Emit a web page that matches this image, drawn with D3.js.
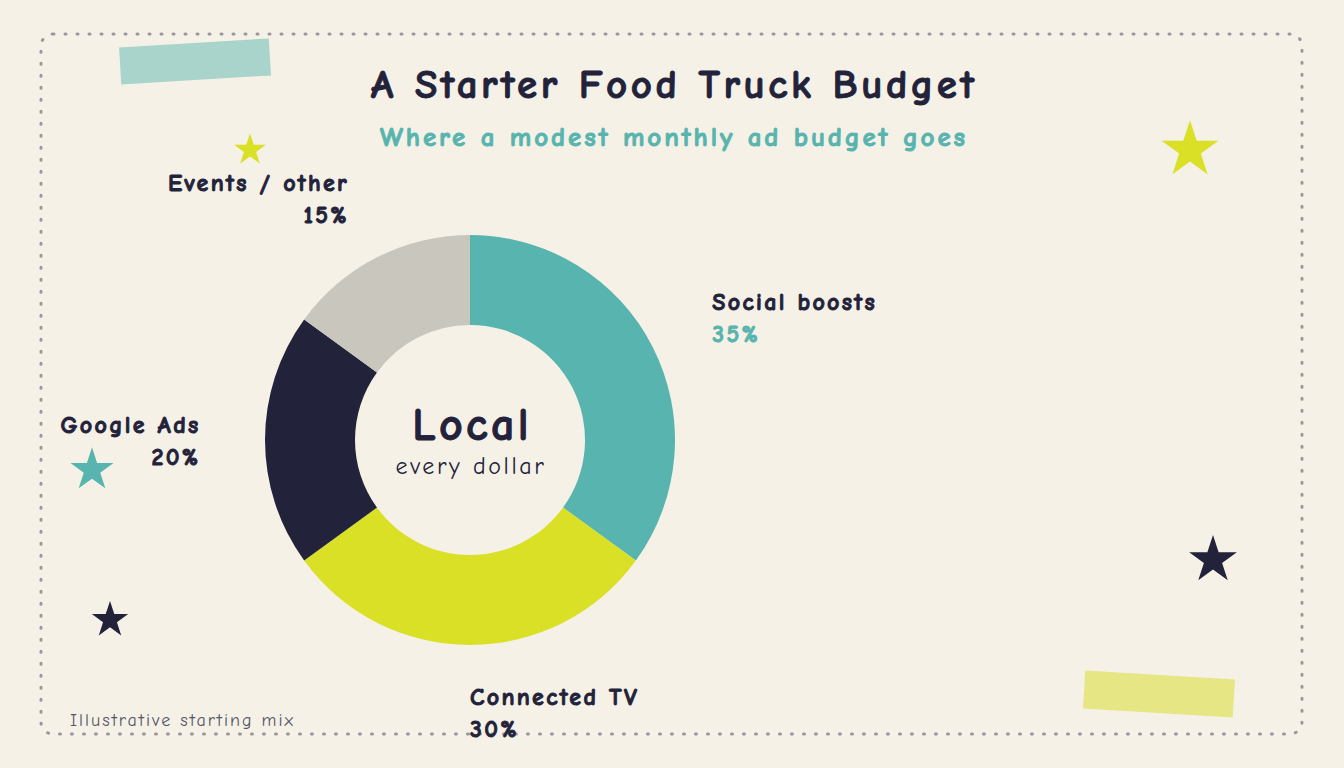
<!DOCTYPE html>
<html>
<head>
<meta charset="utf-8">
<script src="https://cdn.jsdelivr.net/npm/d3@7"></script>
<style>
  html, body { margin: 0; padding: 0; background: #f5f1e6; }
  svg { display: block; font-family: "Comic Neue", "Comic Sans MS", "Chalkboard SE", cursive, "Noto Sans", sans-serif; }
  .heavy { stroke-width: 0.9px; stroke-linejoin: round; }
</style>
</head>
<body>
<div id="chart"></div>
<script>
const categories = ["Social boosts", "Connected TV", "Google Ads", "Events / other"];
const shares = [35, 30, 20, 15];
const sliceColors = ["#58b4ae", "#d9e026", "#22223a", "#c9c6bd"];

const width = 1344, height = 768;
const cx = 470, cy = 440;
const outerR = 205, innerR = 115, labelR = 272;

const data = categories.map((c, i) => ({ name: c, value: shares[i], color: sliceColors[i] }));

const svg = d3.select("#chart").append("svg")
  .attr("width", width)
  .attr("height", height);

svg.append("rect")
  .attr("width", width).attr("height", height)
  .attr("fill", "#f5f1e6");

// dotted frame
svg.append("rect")
  .attr("x", 41).attr("y", 34)
  .attr("width", 1261).attr("height", 700)
  .attr("rx", 12)
  .attr("fill", "none")
  .attr("stroke", "#9a979c")
  .attr("stroke-width", 3)
  .attr("stroke-linecap", "round")
  .attr("stroke-dasharray", "1 11");

// tape strips
svg.append("rect")
  .attr("x", -75).attr("y", -18).attr("width", 150).attr("height", 37)
  .attr("fill", "#a9d4cc")
  .attr("transform", "translate(195,61) rotate(-3.5)");
svg.append("rect")
  .attr("x", -75).attr("y", -19).attr("width", 150).attr("height", 38)
  .attr("fill", "#e6e784")
  .attr("transform", "translate(1159,694) rotate(3.5)");

// stars
const stars = [
  { x: 250, y: 150, r: 14, c: "#d9e026" },
  { x: 1190, y: 150, r: 25, c: "#d9e026" },
  { x: 92, y: 470, r: 19, c: "#58b4ae" },
  { x: 110, y: 620, r: 16, c: "#22223a" },
  { x: 1213, y: 560, r: 21, c: "#22223a" }
];
const starPath = d3.symbol().type(d3.symbolStar);
svg.selectAll(".star").data(stars).enter()
  .append("path")
  .attr("class", "star")
  .attr("transform", d => `translate(${d.x},${d.y})`)
  .attr("d", d => starPath.size(d.r * d.r * 1.6)())
  .attr("fill", d => d.c);

// titles
svg.append("text")
  .attr("class", "heavy")
  .attr("x", 674).attr("y", 98)
  .attr("text-anchor", "middle")
  .style("font-size", "41px")
  .style("font-weight", "bold")
  .style("letter-spacing", "3.5px")
  .attr("fill", "#22223a")
  .attr("stroke", "#22223a")
  .text("A Starter Food Truck Budget");

svg.append("text")
  .attr("class", "heavy")
  .attr("x", 674).attr("y", 146)
  .attr("text-anchor", "middle")
  .style("font-size", "27px")
  .style("font-weight", "bold")
  .style("letter-spacing", "2.9px")
  .attr("fill", "#58b4ae")
  .attr("stroke", "#58b4ae")
  .text("Where a modest monthly ad budget goes");

// donut
const pie = d3.pie().sort(null).value(d => d.value);
const arc = d3.arc().innerRadius(innerR).outerRadius(outerR);
const arcs = pie(data);

const g = svg.append("g").attr("transform", `translate(${cx},${cy})`);
g.selectAll("path.slice").data(arcs).enter()
  .append("path")
  .attr("class", "slice")
  .attr("d", arc)
  .attr("fill", d => d.data.color);

// slice labels
const maxVal = d3.max(shares);
const midAngle = d => (d.startAngle + d.endAngle) / 2;
const onLeft = d => Math.sin(midAngle(d)) < -0.01;

const labels = g.selectAll(".lbl").data(arcs).enter()
  .append("g")
  .attr("class", "lbl")
  .attr("transform", d => `translate(${labelR * Math.sin(midAngle(d))},${-labelR * Math.cos(midAngle(d))})`);

labels.append("text")
  .attr("class", "heavy")
  .attr("text-anchor", d => onLeft(d) ? "end" : "start")
  .style("font-size", "24px")
  .style("font-weight", "bold")
  .style("letter-spacing", "2.3px")
  .each(function (d) {
    const t = d3.select(this);
    const shift = onLeft(d) ? 2.5 : 0;
    const pctColor = d.data.value === maxVal ? "#58b4ae" : "#22223a";
    t.append("tspan").attr("x", shift).attr("y", -7)
      .attr("fill", "#22223a").attr("stroke", "#22223a")
      .text(d.data.name);
    t.append("tspan").attr("x", shift).attr("y", 25)
      .attr("fill", pctColor).attr("stroke", pctColor)
      .text(d.data.value + "%");
  });

// center text
svg.append("text")
  .attr("class", "heavy")
  .attr("x", cx + 2).attr("y", cy)
  .attr("text-anchor", "middle")
  .style("font-size", "46px")
  .style("font-weight", "bold")
  .style("letter-spacing", "3.3px")
  .attr("fill", "#22223a")
  .attr("stroke", "#22223a")
  .text("Local");
svg.append("text")
  .attr("x", cx + 1).attr("y", cy + 34)
  .attr("text-anchor", "middle")
  .style("font-size", "24px")
  .style("letter-spacing", "2.6px")
  .attr("fill", "#22223a")
  .text("every dollar");

// footnote
svg.append("text")
  .attr("x", 70).attr("y", 726)
  .style("font-size", "18px")
  .style("letter-spacing", "2px")
  .attr("fill", "#555566")
  .text("Illustrative starting mix");
</script>
</body>
</html>
